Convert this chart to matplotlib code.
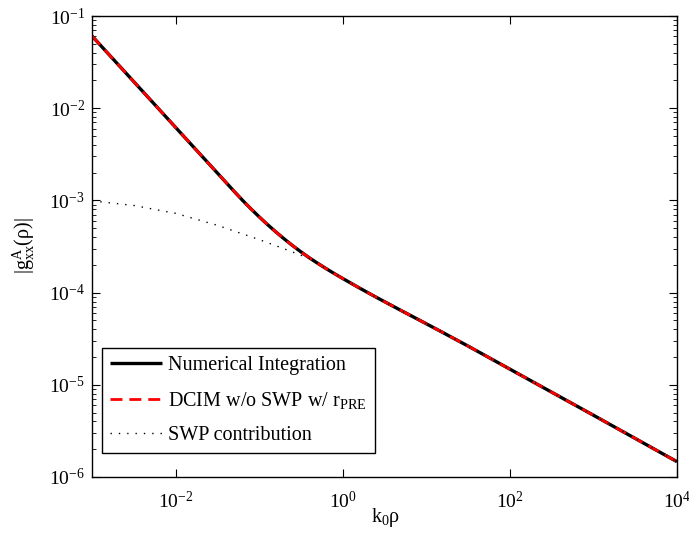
import numpy as np
import matplotlib
matplotlib.use("Agg")
import matplotlib.pyplot as plt
from matplotlib.ticker import LogLocator, LogFormatterMathtext, NullLocator, NullFormatter

plt.rcParams['font.family'] = ['Liberation Serif', 'DejaVu Serif']
plt.rcParams['mathtext.fontset'] = 'custom'
plt.rcParams['mathtext.rm'] = 'Liberation Serif'
plt.rcParams['mathtext.it'] = 'Liberation Serif:italic'
plt.rcParams['mathtext.default'] = 'regular'

# Data (log10 values)
logx_main = [-3.0, -2.5, -2.0, -1.5, -1.3, -1.2, -1.1, -1.0, -0.9, -0.8, -0.7, -0.6,
             -0.5, -0.4, -0.3, -0.2, -0.1, 0.0, 0.2, 0.4, 0.7, 0.9, 1.2, 1.5, 2.0,
             3.0, 4.0]
logy_main = [-1.217, -1.712, -2.208, -2.703, -2.901, -2.998, -3.090, -3.178, -3.262,
             -3.342, -3.418, -3.490, -3.558, -3.622, -3.682, -3.739, -3.794, -3.847,
             -3.950, -4.050, -4.195, -4.290, -4.434, -4.580, -4.830, -5.330, -5.834]

logx_swp = [-3.0, -2.5, -2.0, -1.5, -1.0, -0.7, -0.4, -0.2, 0.0, 0.2, 0.4, 0.7, 0.9,
            1.2, 1.5, 2.0, 3.0, 4.0]
logy_swp = [-3.005, -3.055, -3.140, -3.270, -3.425, -3.525, -3.630, -3.739, -3.847,
            -3.950, -4.050, -4.195, -4.290, -4.434, -4.580, -4.830, -5.330, -5.834]

x_main = 10.0 ** np.array(logx_main)
y_num = 10.0 ** np.array(logy_main)
y_dcim = 10.0 ** np.array(logy_main)
x_swp = 10.0 ** np.array(logx_swp)
y_swp = 10.0 ** np.array(logy_swp)

labels = ["Numerical Integration", r"DCIM w/o SWP w/ r$_{\rm PRE}$", "SWP contribution"]

fig = plt.figure(figsize=(6.89, 5.35), dpi=100)
ax = fig.add_axes([92/689, (535-477)/535, (677-92)/689, (477-16)/535])

ax.loglog(x_main, y_num, color='black', lw=2.4, solid_capstyle='butt',
          solid_joinstyle='round', label=labels[0])
ax.loglog(x_main, y_dcim, color='red', lw=2.0, ls=(0, (4.3, 2.5)), label=labels[1])
ax.loglog(x_swp, y_swp, color='black', lw=1.0, ls=(0, (1, 5)), label=labels[2])

ax.set_xlim(1e-3, 1e4)
ax.set_ylim(1e-6, 1e-1)

ax.xaxis.set_major_locator(LogLocator(base=100.0, subs=(1.0,), numticks=20))
ax.xaxis.set_major_formatter(LogFormatterMathtext())
ax.xaxis.set_minor_locator(NullLocator())
ax.xaxis.set_minor_formatter(NullFormatter())
ax.yaxis.set_major_locator(LogLocator(base=10.0, subs=(1.0,), numticks=20))
ax.yaxis.set_major_formatter(LogFormatterMathtext())
ax.yaxis.set_minor_locator(LogLocator(base=10.0, subs=np.arange(2, 10), numticks=20))
ax.yaxis.set_minor_formatter(NullFormatter())

ax.tick_params(which='both', direction='in', top=True, right=True, labelsize=14)
ax.tick_params(which='major', length=6, width=0.8)
ax.tick_params(which='minor', length=3, width=0.6)
ax.tick_params(axis='x', pad=10)
ax.tick_params(axis='y', pad=5)
for s in ax.spines.values():
    s.set_linewidth(1.0)

ax.set_xlabel(r"k$_0$ρ", fontsize=14.5)
ax.xaxis.set_label_coords(0.5026, -0.062)
ax.set_ylabel(r"|g$^{\rm A}_{\rm xx}$(ρ)|", fontsize=14.5)
ax.yaxis.set_label_coords(-0.094, 0.501)

leg = ax.legend(loc='lower left', bbox_to_anchor=(0.0166, 0.052), borderaxespad=0,
                fontsize=14.5, fancybox=False, edgecolor='black', framealpha=1,
                handlelength=2.6, labelspacing=0.75, borderpad=0.4, handletextpad=0.3)
leg.get_frame().set_linewidth(1.0)

fig.savefig("out.png", dpi=100)
